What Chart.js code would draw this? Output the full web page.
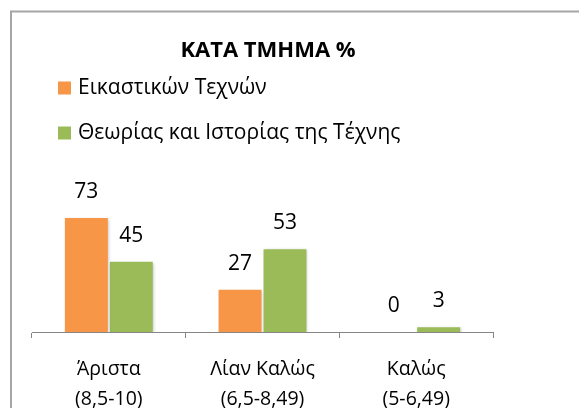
<!DOCTYPE html>
<html>
<head>
<meta charset="utf-8">
<script src="https://cdn.jsdelivr.net/npm/chart.js@4/dist/chart.umd.min.js"></script>
<style>
  html, body { margin: 0; padding: 0; background: #fff; }
  #wrap { width: 579px; height: 408px; position: relative; }
</style>
</head>
<body>
<div id="wrap"><canvas id="myChart" width="579" height="408"></canvas></div>
<script>
const chartTitle = 'ΚΑΤΑ ΤΜΗΜΑ %';
const categories = [['Άριστα', '(8,5-10)'], ['Λίαν Καλώς', '(6,5-8,49)'], ['Καλώς', '(5-6,49)']];
const seriesNames = ['Εικαστικών Τεχνών', 'Θεωρίας και Ιστορίας της Τέχνης'];
const fineArts = [73, 27, 0];
const theoryHistory = [45, 53, 3];

const FONT = '"Open Sans", "Noto Sans", sans-serif';

// grey frame around the chart (only top and left edges are in view)
const framePlugin = {
  id: 'frame',
  beforeDraw(chart) {
    const ctx = chart.ctx;
    ctx.save();
    ctx.strokeStyle = '#a6a6a6';
    ctx.lineWidth = 2;
    ctx.beginPath();
    ctx.moveTo(11, 408);
    ctx.lineTo(11, 11.5);
    ctx.lineTo(579, 11.5);
    ctx.stroke();
    ctx.restore();
  }
};

// title + vertical legend, drawn like the Excel original
const headerPlugin = {
  id: 'header',
  afterDraw(chart) {
    const ctx = chart.ctx;
    ctx.save();
    ctx.fillStyle = '#000';
    ctx.font = 'bold 22px ' + FONT;
    ctx.textAlign = 'center';
    ctx.textBaseline = 'middle';
    ctx.fillText(chartTitle, 268, 51);

    ctx.font = '21px ' + FONT;
    ctx.textAlign = 'left';
    chart.data.datasets.forEach((ds, i) => {
      const y = 88 + i * 45;
      ctx.fillStyle = ds.backgroundColor;
      ctx.fillRect(58, y - 6.5, 13, 13);
      ctx.fillStyle = '#000';
      ctx.fillText(ds.label, 78, y);
    });
    ctx.restore();
  }
};

// shadow under bars + value labels
const barExtras = {
  id: 'barExtras',
  beforeDatasetsDraw(chart) {
    const ctx = chart.ctx;
    ctx.save();
    ctx.shadowColor = 'rgba(0,0,0,0.25)';
    ctx.shadowBlur = 3;
    ctx.shadowOffsetX = 1;
    ctx.shadowOffsetY = 1;
  },
  afterDatasetsDraw(chart) {
    const ctx = chart.ctx;
    ctx.restore();
    ctx.save();
    ctx.fillStyle = '#000';
    ctx.font = '21px ' + FONT;
    ctx.textAlign = 'center';
    ctx.textBaseline = 'middle';
    chart.data.datasets.forEach((ds, i) => {
      chart.getDatasetMeta(i).data.forEach((bar, j) => {
        ctx.fillText(String(ds.data[j]), bar.x, bar.y - 26);
      });
    });
    ctx.restore();
  }
};

const ctx = document.getElementById('myChart').getContext('2d');
new Chart(ctx, {
  type: 'bar',
  data: {
    labels: categories,
    datasets: [{
      label: seriesNames[0],
      data: fineArts,
      backgroundColor: '#f79646',
      categoryPercentage: 0.585,
      barPercentage: 0.955
    }, {
      label: seriesNames[1],
      data: theoryHistory,
      backgroundColor: '#9bbb59',
      categoryPercentage: 0.585,
      barPercentage: 0.955
    }]
  },
  options: {
    responsive: false,
    animation: false,
    layout: { padding: { top: 207, left: 32, right: 86, bottom: 0 } },
    plugins: {
      legend: { display: false },
      title: { display: false },
      tooltip: { enabled: false }
    },
    scales: {
      y: { display: false, min: 0, max: 80 },
      x: {
        grid: { drawOnChartArea: false, tickLength: 6, color: '#868686', offset: true },
        border: { color: '#868686', width: 1 },
        ticks: {
          color: '#000',
          padding: 16,
          font: { family: FONT, size: 19.5, lineHeight: 1.54 },
          maxRotation: 0
        },
        afterFit(scale) { scale.height = 76; }
      }
    }
  },
  plugins: [framePlugin, headerPlugin, barExtras]
});
</script>
</body>
</html>
